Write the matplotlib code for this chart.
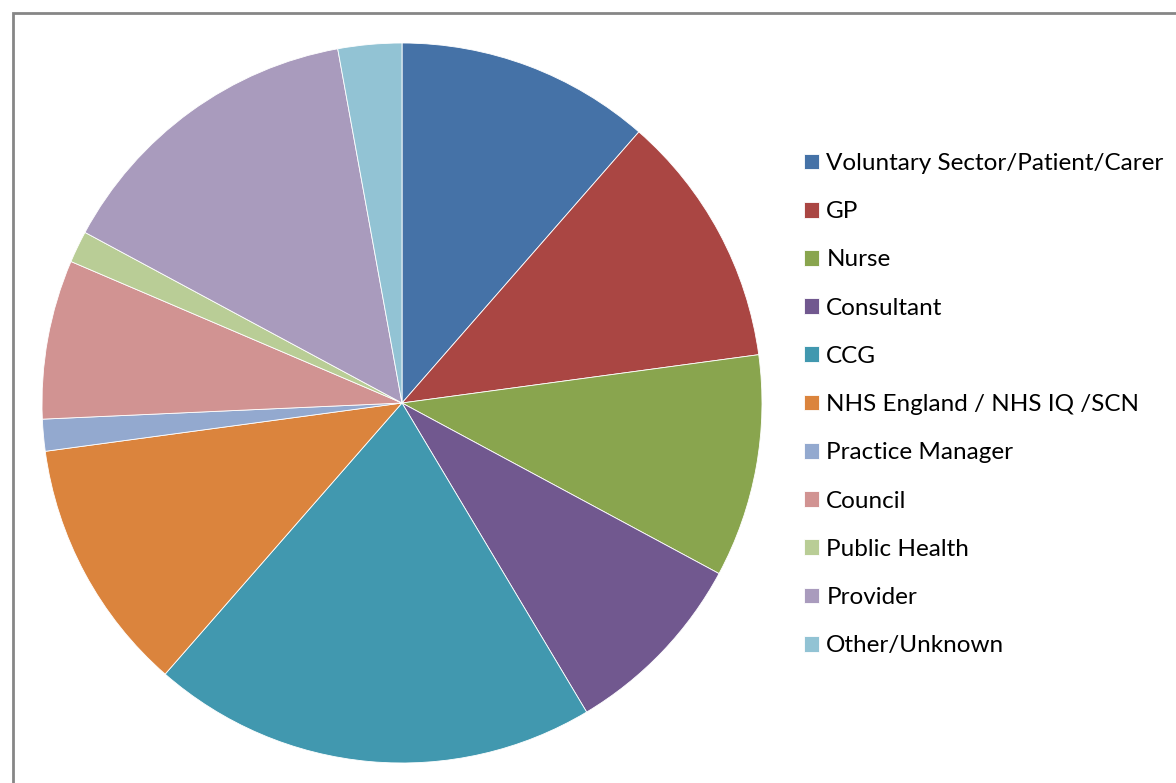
import matplotlib
matplotlib.use("Agg")
import matplotlib.pyplot as plt
from matplotlib.patches import Rectangle

categories = [
    "Voluntary Sector/Patient/Carer",
    "GP",
    "Nurse",
    "Consultant",
    "CCG",
    "NHS England / NHS IQ /SCN",
    "Practice Manager",
    "Council",
    "Public Health",
    "Provider",
    "Other/Unknown",
]
counts = [8, 8, 7, 6, 14, 8, 1, 5, 1, 10, 2]
colors = [
    "#4572A7", "#AA4643", "#89A54E", "#71588F", "#4198AF", "#DB843D",
    "#93A9CF", "#D19392", "#B9CD96", "#A99BBD", "#92C3D4",
]

W, H = 1176, 783
fig = plt.figure(figsize=(W / 100, H / 100), dpi=100)
fig.patch.set_facecolor("white")

# chart-area frame (top and left edges visible)
frame = Rectangle((13 / W, -0.01), 1.2, (H - 13) / H + 0.01, transform=fig.transFigure,
                  fill=False, edgecolor="#868686", linewidth=2.0)
fig.add_artist(frame)

cx, cy, r = 402, 403, 360
ax = fig.add_axes([(cx - r) / W, (H - cy - r) / H, 2 * r / W, 2 * r / H])
wedges, _ = ax.pie(counts, colors=colors, startangle=90, counterclock=False,
                   wedgeprops=dict(edgecolor="white", linewidth=0.6), radius=1.0)
ax.set_xlim(-1, 1)
ax.set_ylim(-1, 1)
ax.set_aspect("equal")
ax.axis("off")

leg = fig.legend(wedges, categories, loc="upper left",
                 bbox_to_anchor=(804 / W, 1 - 153 / H),
                 frameon=False, prop={"family": "Lato", "size": 17.5},
                 handlelength=0.62, handleheight=0.62, handletextpad=0.3,
                 labelspacing=1.12, borderaxespad=0, borderpad=0)

fig.savefig("out.png", dpi=100, facecolor="white")
